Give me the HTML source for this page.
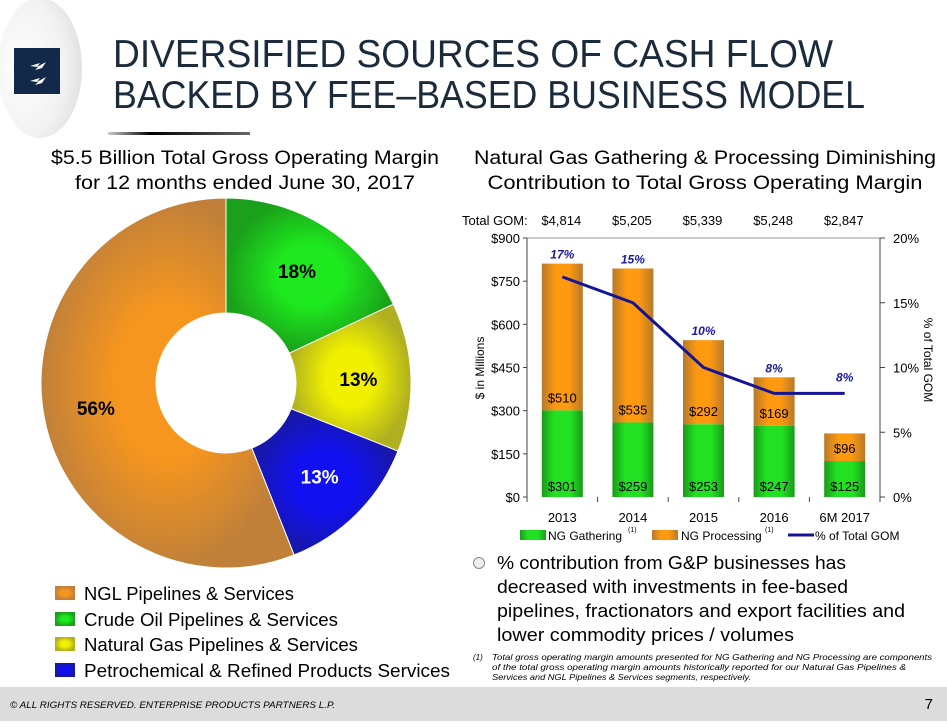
<!DOCTYPE html>
<html><head><meta charset="utf-8"><style>
html,body{margin:0;padding:0;background:#fff;}
body{width:947px;height:727px;overflow:hidden;position:relative;font-family:"Liberation Sans",sans-serif;}
svg{position:absolute;left:0;top:0;}
</style></head><body>
<svg width="947" height="727" viewBox="0 0 947 727" font-family="Liberation Sans, sans-serif">
<defs>
<radialGradient id="lg" cx="0.3" cy="0.5" r="0.7"><stop offset="0" stop-color="#fff"/><stop offset="0.7" stop-color="#f2f2f2"/><stop offset="1" stop-color="#e2e2e2"/></radialGradient>
<linearGradient id="gG" x1="0" x2="1"><stop offset="0" stop-color="#1a9a1a"/><stop offset="0.3" stop-color="#22e022"/><stop offset="0.7" stop-color="#22e022"/><stop offset="1" stop-color="#1a9a1a"/></linearGradient>
<linearGradient id="gO" x1="0" x2="1"><stop offset="0" stop-color="#b8792a"/><stop offset="0.35" stop-color="#ff9a10"/><stop offset="0.65" stop-color="#ff9a10"/><stop offset="1" stop-color="#b8792a"/></linearGradient>
<radialGradient id="pO"><stop offset="0.4" stop-color="#f7961e"/><stop offset="1" stop-color="#c0803a"/></radialGradient>
<radialGradient id="pG"><stop offset="0.4" stop-color="#1ee81e"/><stop offset="1" stop-color="#1aa01a"/></radialGradient>
<radialGradient id="pY"><stop offset="0.4" stop-color="#f0f000"/><stop offset="1" stop-color="#b0b020"/></radialGradient>
<radialGradient id="pB"><stop offset="0.4" stop-color="#1010f0"/><stop offset="1" stop-color="#1818a8"/></radialGradient>
<linearGradient id="ul" x1="0" x2="1"><stop offset="0" stop-color="#000" stop-opacity="0.2"/><stop offset="0.3" stop-color="#000"/><stop offset="1" stop-color="#000" stop-opacity="0.6"/></linearGradient>
</defs>
<ellipse cx="40" cy="68" rx="42" ry="70" fill="url(#lg)"/>
<g>
<rect x="14" y="48" width="46" height="46" fill="#12294a"/>
<path d="M30 66 L40 63 L37 67 L46 62 L42 68 L35 70 L38 67 Z M30 81 L40 78 L37 82 L46 77 L42 83 L35 85 L38 82 Z" fill="#fff"/>
</g>
<text x="113" y="67" font-size="39" fill="#1b2b3b" textLength="720" lengthAdjust="spacingAndGlyphs">DIVERSIFIED SOURCES OF CASH FLOW</text>
<text x="113" y="108" font-size="39" fill="#1b2b3b" textLength="752" lengthAdjust="spacingAndGlyphs">BACKED BY FEE–BASED BUSINESS MODEL</text>
<rect x="108" y="132" width="142" height="3" fill="url(#ul)"/>
<text x="245" y="164" font-size="19" text-anchor="middle" textLength="388" lengthAdjust="spacingAndGlyphs">$5.5 Billion Total Gross Operating Margin</text>
<text x="245" y="189" font-size="19" text-anchor="middle" textLength="340" lengthAdjust="spacingAndGlyphs">for 12 months ended June 30, 2017</text>
<g id="pie"></g>
<g font-size="18">
<rect x="55" y="586" width="20" height="14" fill="url(#pO)"/>
<text x="84" y="600" textLength="210" lengthAdjust="spacingAndGlyphs">NGL Pipelines &amp; Services</text>
<rect x="55" y="612" width="20" height="14" fill="url(#pG)"/>
<text x="84" y="626" textLength="254" lengthAdjust="spacingAndGlyphs">Crude Oil Pipelines &amp; Services</text>
<rect x="55" y="637" width="20" height="14" fill="url(#pY)"/>
<text x="84" y="651" textLength="274" lengthAdjust="spacingAndGlyphs">Natural Gas Pipelines &amp; Services</text>
<rect x="55" y="663" width="20" height="14" fill="url(#pB)"/>
<text x="84" y="677" textLength="366" lengthAdjust="spacingAndGlyphs">Petrochemical &amp; Refined Products Services</text>
</g>
<text x="705" y="164" font-size="19" text-anchor="middle" textLength="462" lengthAdjust="spacingAndGlyphs">Natural Gas Gathering &amp; Processing Diminishing</text>
<text x="705" y="189" font-size="19" text-anchor="middle" textLength="435" lengthAdjust="spacingAndGlyphs">Contribution to Total Gross Operating Margin</text>
<g id="bar" font-size="13"></g>
<g font-size="18">
<circle cx="479" cy="563" r="5.5" fill="#eee" stroke="#888"/>
<text x="497" y="569" textLength="349" lengthAdjust="spacingAndGlyphs">% contribution from G&amp;P businesses has</text>
<text x="497" y="593" textLength="351" lengthAdjust="spacingAndGlyphs">decreased with investments in fee-based</text>
<text x="497" y="617" textLength="408" lengthAdjust="spacingAndGlyphs">pipelines, fractionators and export facilities and</text>
<text x="497" y="641" textLength="297" lengthAdjust="spacingAndGlyphs">lower commodity prices / volumes</text>
</g>
<g font-size="8" font-style="italic">
<text x="473" y="660">(1)</text>
<text x="492" y="660" textLength="440" lengthAdjust="spacingAndGlyphs">Total gross operating margin amounts presented for NG Gathering and NG Processing are components</text>
<text x="492" y="670" textLength="414" lengthAdjust="spacingAndGlyphs">of the total gross operating margin amounts historically reported for our Natural Gas Pipelines &amp;</text>
<text x="492" y="680" textLength="259" lengthAdjust="spacingAndGlyphs">Services and NGL Pipelines &amp; Services segments, respectively.</text>
</g>
<rect x="0" y="687" width="947" height="34" fill="#dcdcdc"/>
<text x="10" y="708" font-size="9" font-style="italic" textLength="325" lengthAdjust="spacingAndGlyphs">© ALL RIGHTS RESERVED. ENTERPRISE PRODUCTS PARTNERS L.P.</text>
<text x="933" y="709" font-size="15" text-anchor="end">7</text>
</svg>
<script>
const pieLabels=["Crude Oil Pipelines & Services","Natural Gas Pipelines & Services","Petrochemical & Refined Products Services","NGL Pipelines & Services"];
const pieValues=[18,13,13,56];
const pieFills=["url(#pG)","url(#pY)","url(#pB)","url(#pO)"];
const pieTextColors=["#000","#000","#fff","#000"];

const years=["2013","2014","2015","2016","6M 2017"];
const totalGom=["$4,814","$5,205","$5,339","$5,248","$2,847"];
const gathering=[301,259,253,247,125];
const processing=[510,535,292,169,96];
const pctGom=[17,15,10,8,8];
const leftTicks=[0,150,300,450,600,750,900];
const rightTicks=[0,5,10,15,20];

const NS="http://www.w3.org/2000/svg";
function mk(parent,tag,attrs,txt){const e=document.createElementNS(NS,tag);for(const k in attrs)e.setAttribute(k,attrs[k]);if(txt!==undefined)e.textContent=txt;parent.appendChild(e);return e;}

// pie
(function(){
const g=document.getElementById('pie');
const cx=226,cy=383,R=185,r=70;
const total=pieValues.reduce((a,b)=>a+b,0);
let a0=-Math.PI/2;
pieValues.forEach((v,i)=>{
 const a1=a0+v/total*2*Math.PI;
 const large=(a1-a0)>Math.PI?1:0;
 const p=`M${cx+R*Math.cos(a0)} ${cy+R*Math.sin(a0)} A${R} ${R} 0 ${large} 1 ${cx+R*Math.cos(a1)} ${cy+R*Math.sin(a1)} L${cx+r*Math.cos(a1)} ${cy+r*Math.sin(a1)} A${r} ${r} 0 ${large} 0 ${cx+r*Math.cos(a0)} ${cy+r*Math.sin(a0)} Z`;
 const s=mk(g,'path',{d:p,fill:pieFills[i],stroke:'#fff','stroke-width':1});
 
 
 const am=(a0+a1)/2, lr=(R+r)/2+5;
 const t=mk(g,'text',{x:cx+lr*Math.cos(am),y:cy+lr*Math.sin(am)+7,'text-anchor':'middle','font-size':19,'font-weight':'bold',fill:pieTextColors[i]},v+'%');
 
 
 a0=a1;
});
})();

// bar chart
(function(){
const g=document.getElementById('bar');
const L=527,Rx=880,T=238,B=497;
const y=v=>B-(v/900)*(B-T);
const y2=v=>B-(v/20)*(B-T);
const cw=(Rx-L)/years.length;
const xc=i=>L+cw*(i+0.5);
const bw=41;
mk(g,'line',{x1:L,y1:T,x2:Rx,y2:T,stroke:'#999'});
mk(g,'line',{x1:L,y1:T,x2:L,y2:B,stroke:'#444'});
mk(g,'line',{x1:Rx,y1:T,x2:Rx,y2:B,stroke:'#444'});
leftTicks.forEach(v=>{
 mk(g,'line',{x1:L-4,y1:y(v),x2:L,y2:y(v),stroke:'#444'});
 const t=mk(g,'text',{x:L-7,y:y(v)+5,'text-anchor':'end'},'$'+v);
 
 
});
rightTicks.forEach(v=>{
 mk(g,'line',{x1:Rx,y1:y2(v),x2:Rx+5,y2:y2(v),stroke:'#444'});
 const t=mk(g,'text',{x:Rx+13,y:y2(v)+5},v+'%');
 
 
});
for(let i=0;i<=years.length;i++) mk(g,'line',{x1:L+cw*i,y1:B,x2:L+cw*i,y2:B+5,stroke:'#444'});
const tg=mk(g,'text',{x:462,y:225},'Total GOM:');


years.forEach((yr,i)=>{
 const x=xc(i);
 const gb=mk(g,'rect',{x:x-bw/2,y:y(gathering[i]),width:bw,height:B-y(gathering[i]),fill:'url(#gG)'});
 
 
 const top=gathering[i]+processing[i];
 const pb=mk(g,'rect',{x:x-bw/2,y:y(top),width:bw,height:y(gathering[i])-y(top),fill:'url(#gO)'});
 
 
 mk(g,'text',{x:x,y:B-6,'text-anchor':'middle'},'$'+gathering[i]);
 mk(g,'text',{x:x,y:y(gathering[i])-8,'text-anchor':'middle'},'$'+processing[i]);
 const xl=mk(g,'text',{x:x,y:B+25,'text-anchor':'middle'},yr);
 
 
 const tt=mk(g,'text',{x:x-1,y:225,'text-anchor':'middle'},totalGom[i]);
 
 
});
const pts=pctGom.map((v,i)=>xc(i)+','+y2(v)).join(' ');
const ln=mk(g,'polyline',{points:pts,fill:'none',stroke:'#141496','stroke-width':3});


const lblY=[251,262,334,369,382];
pctGom.forEach((v,i)=>{
 const barTop=y(gathering[i]+processing[i]);
 const t=mk(g,'text',{x:xc(i),y:Math.min(barTop-5,y2(v)-12),'text-anchor':'middle','font-weight':'bold','font-style':'italic',fill:'#1a1aa0','font-size':12},v+'%');
 
 
});
const yt=mk(g,'text',{x:0,y:0,transform:`translate(484,368) rotate(-90)`,'text-anchor':'middle','font-size':12},'$ in Millions');


const yt2=mk(g,'text',{x:0,y:0,transform:`translate(924,360) rotate(90)`,'text-anchor':'middle','font-size':12},'% of Total GOM');


// legend
const lg=mk(g,'g',{});


mk(lg,'rect',{x:520,y:530,width:26,height:10,fill:'url(#gG)'});
mk(lg,'text',{x:548,y:540,'font-size':12},'NG Gathering');
mk(lg,'text',{x:628,y:532,'font-size':7},'(1)');
mk(lg,'rect',{x:652,y:530,width:26,height:10,fill:'url(#gO)'});
mk(lg,'text',{x:681,y:540,'font-size':12},'NG Processing');
mk(lg,'text',{x:765,y:532,'font-size':7},'(1)');
mk(lg,'line',{x1:788,y1:535,x2:814,y2:535,stroke:'#141496','stroke-width':3});
mk(lg,'text',{x:815,y:540,'font-size':12},'% of Total GOM');
})();
</script>
</body></html>
